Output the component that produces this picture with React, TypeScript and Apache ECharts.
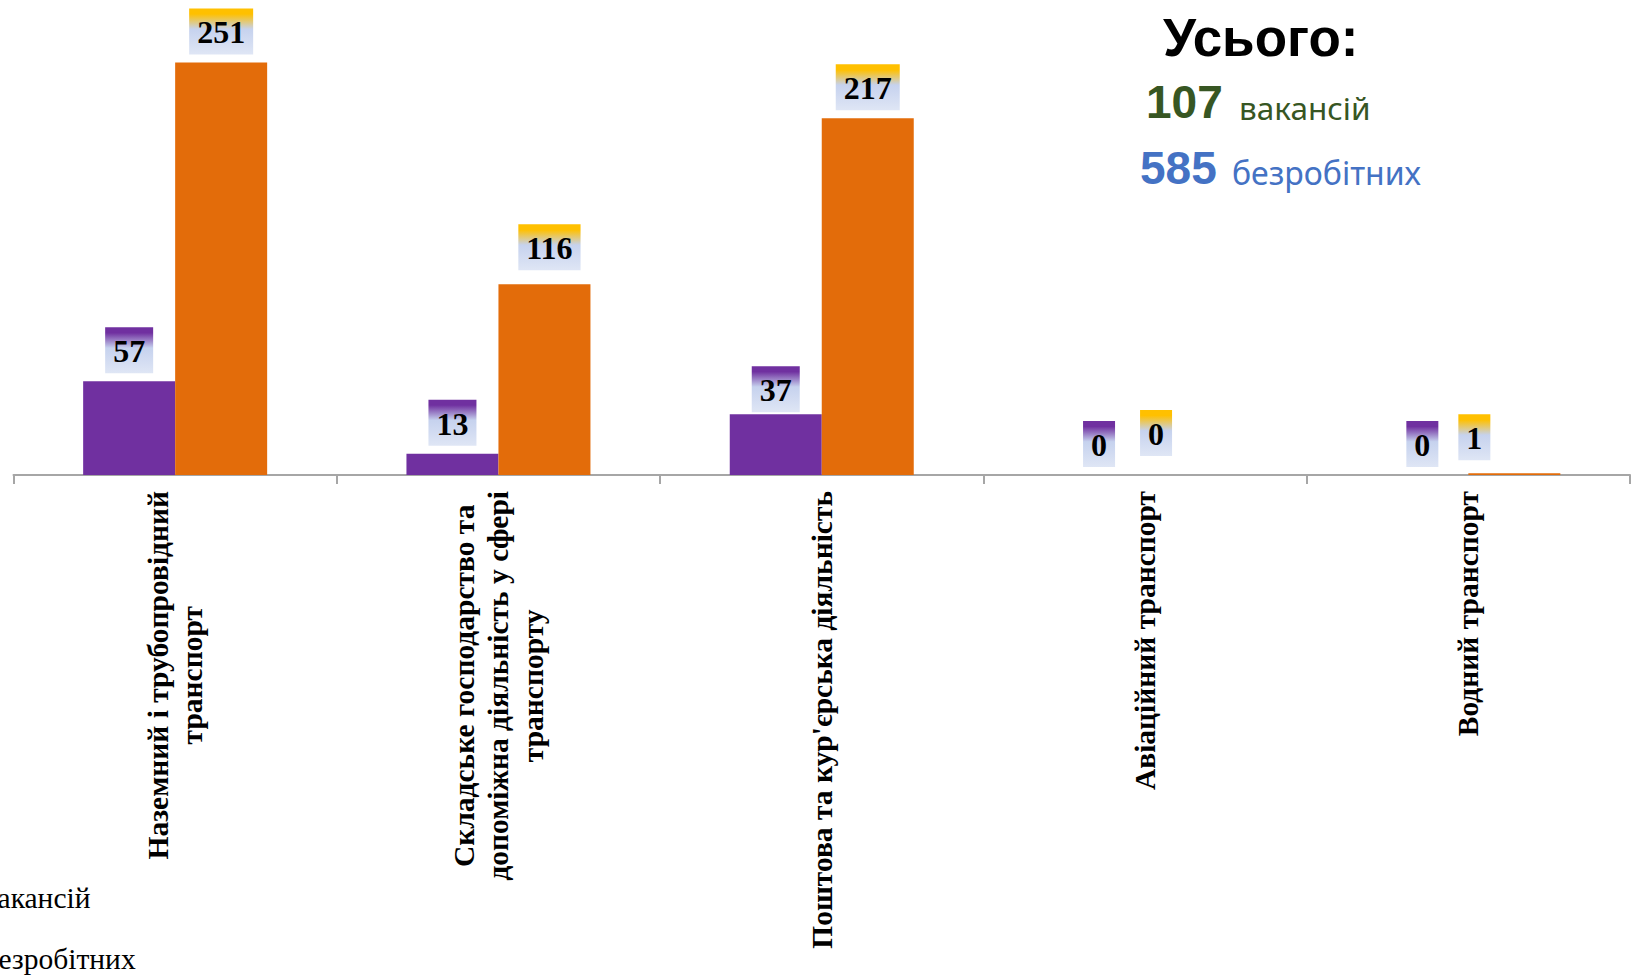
import React, { useEffect, useRef } from "react";
import * as echarts from "echarts";

const categories = [
  "Наземний і трубопровідний\nтранспорт",
  "Складське господарство та\nдопоміжна діяльність у сфері\nтранспорту",
  "Поштова та кур'єрська діяльність",
  "Авіаційний транспорт",
  "Водний транспорт",
];
const vacancies = [57, 13, 37, 0, 0];
const unemployed = [251, 116, 217, 0, 1];
const seriesNames = ["вакансій", "безробітних"];
const totalVacancies = "107";
const totalUnemployed = "585";
const totalTitle = "Усього:";

// manually placed data labels in the reference
const vacancyLabelOffsets: Array<[number, number] | null> = [null, null, [0, 6], null, null];
const unemployedLabelOffsets: Array<[number, number] | null> = [null, [5, -6], null, [-35, -11], [-40, -5]];

const SERIF = "'Liberation Serif', 'Times New Roman', serif";
const SANS = "'Liberation Sans', Arial, sans-serif";
const NOTO = "'Noto Sans', sans-serif";

function grad(top: string) {
  return new echarts.graphic.LinearGradient(0, 0, 0, 1, [
    { offset: 0, color: top },
    { offset: 0.12, color: top },
    { offset: 0.45, color: "#C6D2EE" },
    { offset: 1, color: "#DFE6F5" },
  ]);
}

function withOffsets(values: number[], offsets: Array<[number, number] | null>) {
  return values.map((v, i) => {
    const off = offsets[i];
    return off ? { value: v, label: { offset: off } } : v;
  });
}

export default function App() {
  const ref = useRef<HTMLDivElement>(null);
  useEffect(() => {
    document.body.style.margin = "0";
    const chart = echarts.init(ref.current!, null, { renderer: "svg" });
    const labelBase = {
      show: true,
      position: "top" as const,
      distance: 8,
      fontFamily: SERIF,
      fontWeight: "bold" as const,
      fontSize: 32,
      lineHeight: 32,
      color: "#000",
      padding: [8, 8, 6, 8],
    };
    chart.setOption({
      animation: false,
      grid: { left: 13.5, right: 3, top: 0, bottom: 501, containLabel: false },
      legend: {
        orient: "vertical",
        left: -51,
        top: 878,
        height: 200,
        itemGap: 31,
        itemWidth: 25,
        itemHeight: 14,
        textStyle: { fontFamily: SERIF, fontSize: 29.5, lineHeight: 30, color: "#000" },
        data: seriesNames,
      },
      xAxis: {
        type: "category",
        data: categories,
        axisLine: { lineStyle: { color: "#A6A6A6", width: 2 } },
        axisTick: { show: true, length: 9, lineStyle: { color: "#A6A6A6", width: 2 } },
        axisLabel: {
          rotate: 90,
          margin: 16,
          interval: 0,
          formatter: (v: string) => v.split("\n").map((l) => `{a|${l}}`).join("\n"),
          rich: {
            a: {
              fontFamily: SERIF,
              fontWeight: "bold",
              fontSize: 29.5,
              lineHeight: 34.5,
              color: "#000",
              align: "center",
            },
          },
        },
      },
      yAxis: { type: "value", min: 0, max: 289, show: false, splitLine: { show: false } },
      series: [
        {
          name: seriesNames[0],
          type: "bar",
          barWidth: 92,
          barGap: "0%",
          itemStyle: { color: "#7030A0" },
          label: { ...labelBase, backgroundColor: grad("#7030A0") },
          data: withOffsets(vacancies, vacancyLabelOffsets),
        },
        {
          name: seriesNames[1],
          type: "bar",
          barWidth: 92,
          barGap: "0%",
          itemStyle: { color: "#E36C0A" },
          label: { ...labelBase, backgroundColor: grad("#FFC000") },
          data: withOffsets(unemployed, unemployedLabelOffsets),
        },
      ],
      graphic: [
        {
          type: "text",
          left: 1163,
          top: 11,
          style: { text: totalTitle, fontFamily: SANS, fontWeight: "bold", fontSize: 53, fill: "#000" },
        },
        {
          type: "text",
          x: 1146,
          y: 102,
          style: { text: totalVacancies, fontFamily: SANS, fontWeight: "bold", fontSize: 46, fill: "#375623", verticalAlign: "middle" },
        },
        {
          type: "text",
          x: 1239,
          y: 107,
          style: { text: seriesNames[0], fontFamily: NOTO, fontSize: 31.5, fill: "#375623", verticalAlign: "middle" },
        },
        {
          type: "text",
          x: 1140,
          y: 168,
          style: { text: totalUnemployed, fontFamily: SANS, fontWeight: "bold", fontSize: 46, fill: "#4472C4", verticalAlign: "middle" },
        },
        {
          type: "text",
          x: 1232,
          y: 172,
          style: { text: seriesNames[1], fontFamily: NOTO, fontSize: 32, fill: "#4472C4", verticalAlign: "middle" },
        },
      ],
    });
    return () => chart.dispose();
  }, []);
  return <div ref={ref} style={{ width: 1633, height: 976 }} />;
}
